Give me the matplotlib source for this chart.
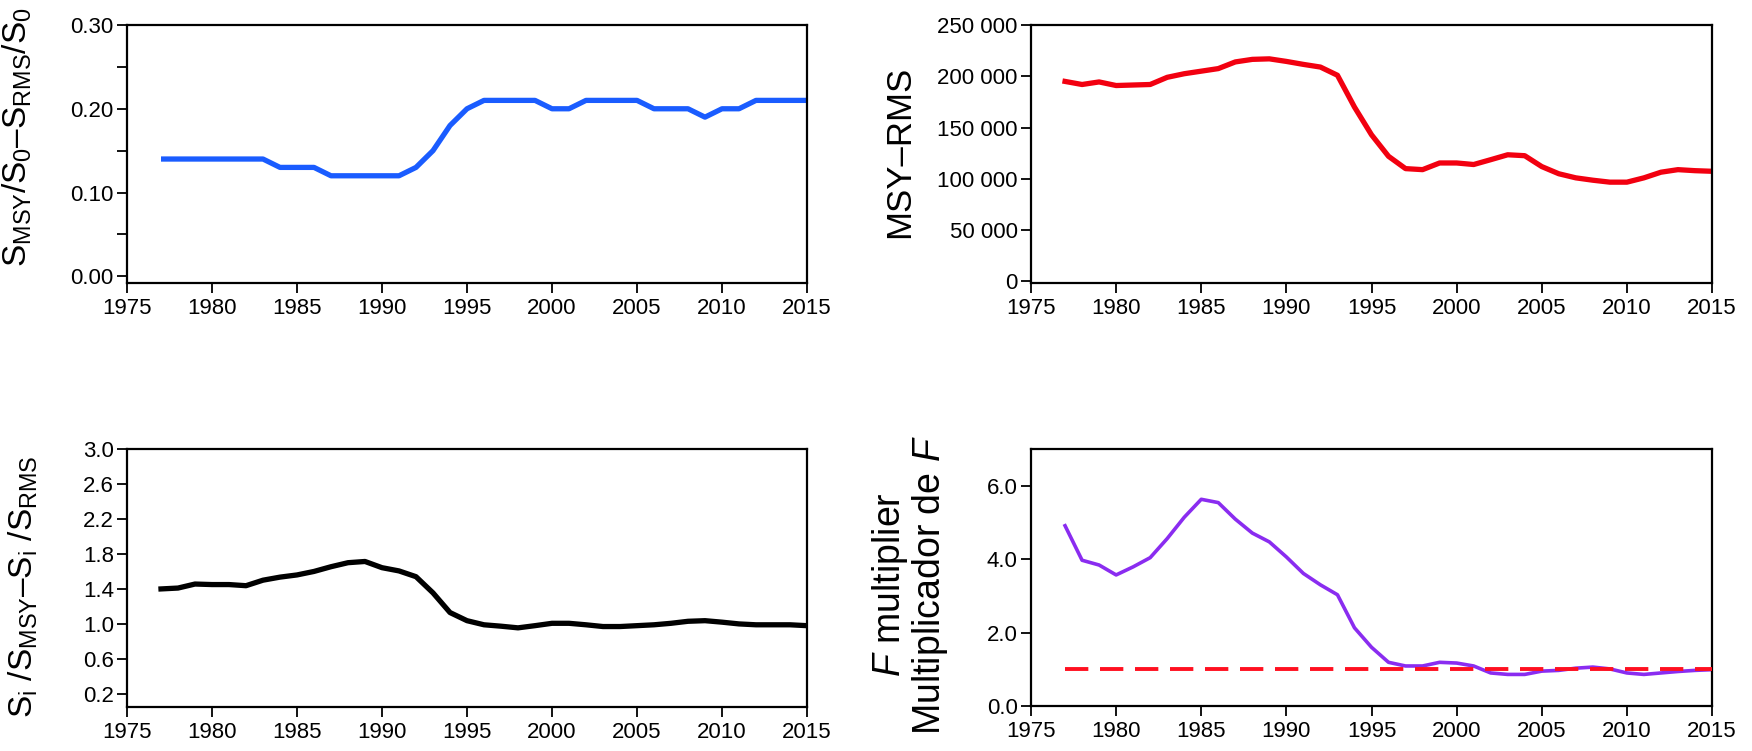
import matplotlib
matplotlib.use("Agg")
import matplotlib.pyplot as plt
from matplotlib.ticker import FuncFormatter, MultipleLocator, FixedLocator

plt.rcParams['font.family'] = ['Liberation Sans', 'DejaVu Sans']
plt.rcParams['mathtext.fontset'] = 'custom'
plt.rcParams['mathtext.rm'] = 'Liberation Sans'
plt.rcParams['mathtext.it'] = 'Liberation Sans:italic'
plt.rcParams['mathtext.default'] = 'regular'

years = list(range(1977, 2016))

smsy_s0 = [0.14, 0.14, 0.14, 0.14, 0.14, 0.14, 0.14, 0.13, 0.13, 0.13,
           0.12, 0.12, 0.12, 0.12, 0.12, 0.13, 0.15, 0.18, 0.20, 0.21,
           0.21, 0.21, 0.21, 0.20, 0.20, 0.21, 0.21, 0.21, 0.21, 0.20,
           0.20, 0.20, 0.19, 0.20, 0.20, 0.21, 0.21, 0.21, 0.21]

msy = [195000, 192000, 194500, 191000, 191500, 192000, 199000, 202500, 205000, 207500,
       214000, 216500, 217000, 214500, 211600, 209000, 201000, 170000, 143000, 122000,
       110000, 109000, 115500, 115500, 114000, 118700, 123500, 122600, 112000, 105000,
       101000, 98700, 96800, 96800, 101000, 106500, 109000, 108000, 107400]

si_smsy = [1.40, 1.41, 1.456, 1.45, 1.45, 1.437, 1.50, 1.535, 1.56, 1.60,
           1.654, 1.70, 1.714, 1.643, 1.606, 1.54, 1.355, 1.13, 1.037, 0.99,
           0.974, 0.955, 0.98, 1.007, 1.007, 0.99, 0.97, 0.97, 0.98, 0.99,
           1.007, 1.03, 1.037, 1.02, 1.00, 0.99, 0.99, 0.99, 0.98]

f_mult = [4.91, 3.97, 3.84, 3.57, 3.79, 4.04, 4.56, 5.14, 5.63, 5.54,
          5.09, 4.71, 4.47, 4.06, 3.61, 3.30, 3.03, 2.13, 1.60, 1.19,
          1.09, 1.09, 1.19, 1.17, 1.09, 0.90, 0.86, 0.86, 0.95, 0.97,
          1.03, 1.06, 1.01, 0.90, 0.86, 0.90, 0.94, 0.97, 0.99]

ref_years = [1977, 2015]
ref_level = [1.0, 1.0]

xticks = [1975, 1980, 1985, 1990, 1995, 2000, 2005, 2010, 2015]

W, H = 1752, 751
fig = plt.figure(figsize=(W / 100, H / 100), dpi=100)


def make_ax(l, r, t, b):
    return fig.add_axes([l / W, 1 - b / H, (r - l) / W, (b - t) / H])


def ylab(x, y, s, size, **kw):
    fig.text(x / W, 1 - y / H, s, rotation=90, ha='center', va='center',
             fontsize=size, **kw)


axes = [make_ax(127, 807, 25, 283), make_ax(1031, 1712, 25, 283),
        make_ax(127, 807, 449, 707), make_ax(1031, 1712, 449, 706)]

for ax in axes:
    ax.set_xlim(1975, 2015)
    ax.set_xticks(xticks)
    for s in ax.spines.values():
        s.set_linewidth(1.6)
    ax.tick_params(direction='out', length=7, width=1.3, labelsize=16, pad=2.5)
    ax.tick_params(axis='x', pad=4)

# Top-left
ax = axes[0]
ax.plot(years, smsy_s0, color='#1a5cff', lw=3.8, solid_capstyle='butt')
ax.set_ylim(-0.008, 0.30)
ax.yaxis.set_major_locator(FixedLocator([0.0, 0.05, 0.10, 0.15, 0.20, 0.25, 0.30]))
ax.yaxis.set_major_formatter(FuncFormatter(lambda v, p: f"{v:.2f}" if abs(round(v * 100) % 10) == 0 else ""))
ylab(17, 137, '$S_{MSY}/S_0$\u2013$S_{RMS}/S_0$', 24)

# Top-right
ax = axes[1]
ax.plot(years, msy, color='#f20010', lw=3.8)
ax.set_ylim(-1500, 250000)
ax.yaxis.set_major_locator(MultipleLocator(50000))
ax.yaxis.set_major_formatter(FuncFormatter(lambda v, p: f"{int(round(v)):,}".replace(",", " ")))
ylab(900, 152, 'MSY\u2013RMS', 25)

# Bottom-left
ax = axes[2]
ax.plot(years, si_smsy, color='black', lw=3.8)
ax.set_ylim(0.05, 3.0)
ax.yaxis.set_major_locator(FixedLocator([0.2, 0.6, 1.0, 1.4, 1.8, 2.2, 2.6, 3.0]))
ax.yaxis.set_major_formatter(FuncFormatter(lambda v, p: f"{v:.1f}"))
ylab(23, 587, '$S_i$ /$S_{MSY}$\u2013$S_i$ /$S_{RMS}$', 24)

# Bottom-right
ax = axes[3]
ax.plot(ref_years, ref_level, color='#ff1020', lw=2.8, dashes=(6, 3), zorder=3)
ax.plot(years, f_mult, color='#8a2cf0', lw=2.6, zorder=2)
ax.set_ylim(0, 7)
ax.yaxis.set_major_locator(FixedLocator([0, 2, 4, 6]))
ax.yaxis.set_major_formatter(FuncFormatter(lambda v, p: f"{v:.1f}"))
ylab(910, 585, '$\\mathit{F}$ multiplier\nMultiplicador de $\\mathit{F}$', 27,
     linespacing=1.0)

fig.savefig('out.png', dpi=100)
